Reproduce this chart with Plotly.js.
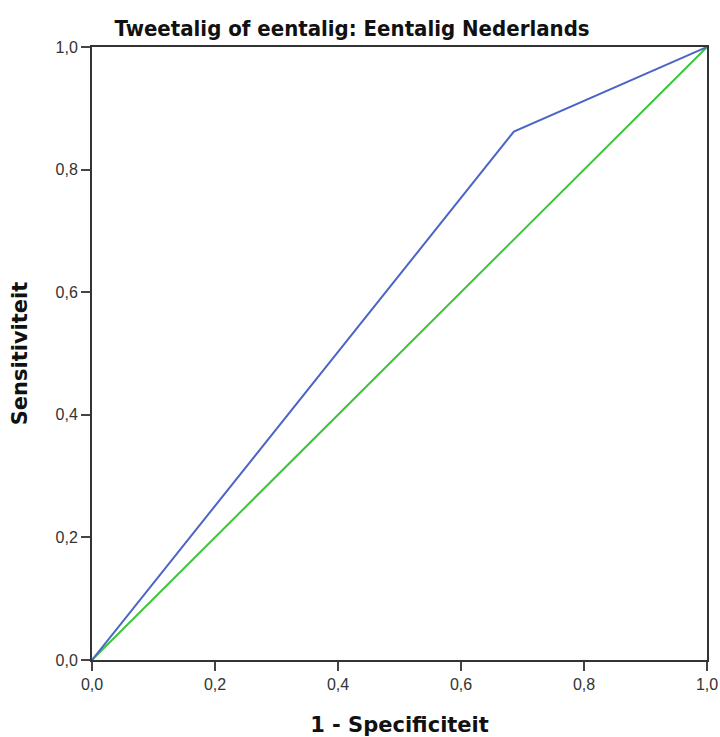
<!DOCTYPE html>
<html><head><meta charset="utf-8">
<script src="https://cdn.plot.ly/plotly-3.0.1.min.js"></script>
<style>body{margin:0;padding:0;background:#fff}#chart{width:720px;height:737px}</style>
</head><body><div id="chart"></div>
<script>
const rocX = [0, 0.686, 1];
const rocY = [0, 0.862, 1];
const refX = [0, 1];
const refY = [0, 1];
const tickVals = [0, 0.2, 0.4, 0.6, 0.8, 1.0];

const traces = [
  {x: refX, y: refY, mode: 'lines', line: {color: '#3dc43d', width: 2}, hoverinfo: 'none'},
  {x: rocX, y: rocY, mode: 'lines', line: {color: '#4b64c6', width: 2}, hoverinfo: 'none'}
];
const axisCommon = {
  range: [0, 1], tickvals: tickVals, tickformat: '.1f',
  ticks: 'outside', ticklen: 9, tickwidth: 2, tickcolor: '#444',
  showline: true, linecolor: '#333', linewidth: 2, mirror: true,
  showgrid: false, zeroline: false,
  tickfont: {family: 'Liberation Sans, Arial, sans-serif', size: 16, color: '#333'}
};
const titleFont = {family: 'DejaVu Sans, Verdana, sans-serif', size: 21, color: '#111', weight: 'bold'};
const layout = {
  width: 720, height: 737,
  margin: {l: 92, r: 13, t: 47, b: 77},
  separators: ',.',
  showlegend: false,
  paper_bgcolor: '#fff', plot_bgcolor: '#fff',
  title: {text: 'Tweetalig of eentalig: Eentalig Nederlands', x: 0.489, xanchor: 'center', y: 0.962, yanchor: 'middle',
    font: {family: 'DejaVu Sans Condensed, Liberation Sans Narrow, sans-serif', size: 22, color: '#111', weight: 'bold'}},
  xaxis: Object.assign({}, axisCommon, {
    title: {text: '1 - Specificiteit', standoff: 26, font: titleFont}
  }),
  yaxis: Object.assign({}, axisCommon, {
    title: {text: 'Sensitiviteit', standoff: 22, font: titleFont}
  })
};
Plotly.newPlot('chart', traces, layout, {displayModeBar: false, staticPlot: true});
</script></body></html>
